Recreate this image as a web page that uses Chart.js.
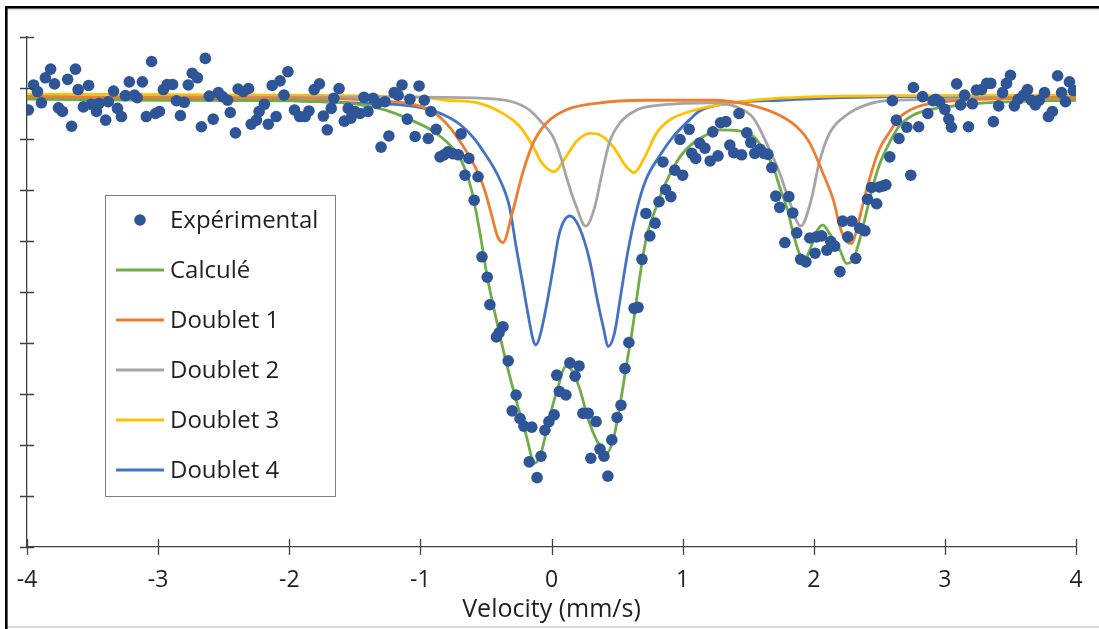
<!DOCTYPE html>
<html>
<head>
<meta charset="utf-8">
<script src="https://cdn.jsdelivr.net/npm/chart.js@4.4.1/dist/chart.umd.min.js"></script>
<style>
  html, body { margin: 0; padding: 0; background: #fff; }
  #out { display: block; }
</style>
</head>
<body>
<canvas id="out" width="1099" height="629"></canvas>
<script>
// velocity (mm/s) and relative transmission (arbitrary units, 0..10)
const expX = [-3.99,-3.95,-3.92,-3.89,-3.86,-3.82,-3.79,-3.76,-3.73,-3.69,
  -3.66,-3.63,-3.61,-3.57,-3.53,-3.51,-3.47,-3.45,-3.40,-3.38,
  -3.34,-3.31,-3.28,-3.25,-3.22,-3.18,-3.16,-3.12,-3.09,-3.05,
  -3.02,-2.99,-2.96,-2.93,-2.89,-2.86,-2.83,-2.80,-2.77,-2.74,
  -2.70,-2.67,-2.64,-2.61,-2.58,-2.54,-2.51,-2.47,-2.45,-2.41,
  -2.39,-2.35,-2.31,-2.29,-2.25,-2.23,-2.19,-2.16,-2.13,-2.10,
  -2.07,-2.04,-2.01,-1.96,-1.92,-1.88,-1.85,-1.81,-1.77,-1.74,
  -1.71,-1.68,-1.66,-1.62,-1.58,-1.55,-1.53,-1.50,-1.46,-1.43,
  -1.40,-1.36,-1.33,-1.30,-1.27,-1.24,-1.20,-1.17,-1.14,-1.10,
  -1.08,-1.04,-1.01,-0.97,-0.94,-0.92,-0.88,-0.85,-0.82,-0.79,
  -0.75,-0.71,-0.69,-0.66,-0.63,-0.59,-0.56,-0.53,-0.49,-0.47,
  -0.42,-0.40,-0.37,-0.33,-0.30,-0.27,-0.24,-0.21,-0.17,-0.15,
  -0.11,-0.08,-0.05,-0.02,0.02,0.04,0.06,0.11,0.14,0.18,
  0.21,0.24,0.28,0.30,0.34,0.37,0.40,0.43,0.46,0.50,
  0.53,0.56,0.59,0.63,0.66,0.69,0.72,0.75,0.79,0.82,
  0.85,0.87,0.91,0.94,0.98,1.00,1.05,1.07,1.10,1.13,
  1.17,1.21,1.23,1.27,1.29,1.33,1.36,1.39,1.43,1.45,
  1.49,1.52,1.55,1.59,1.62,1.65,1.68,1.71,1.74,1.78,
  1.81,1.84,1.87,1.90,1.94,1.97,2.01,2.02,2.06,2.10,
  2.13,2.16,2.20,2.22,2.26,2.29,2.32,2.35,2.39,2.41,
  2.44,2.48,2.50,2.53,2.55,2.58,2.60,2.63,2.65,2.71,
  2.74,2.76,2.80,2.83,2.87,2.91,2.93,2.96,3.00,3.03,
  3.05,3.09,3.12,3.15,3.18,3.21,3.24,3.28,3.32,3.35,
  3.37,3.41,3.44,3.47,3.50,3.53,3.56,3.60,3.63,3.66,
  3.69,3.72,3.76,3.79,3.82,3.86,3.89,3.92,3.95,3.98];
const expY = [8.57,9.06,8.93,8.71,9.20,9.37,9.08,8.61,8.54,9.17,
  8.25,9.37,8.97,8.63,9.05,8.68,8.54,8.70,8.37,8.73,
  8.94,8.60,8.44,8.85,9.12,8.86,8.81,9.12,8.44,9.52,
  8.50,8.54,8.97,9.07,9.07,8.75,8.46,8.72,9.06,9.29,
  9.20,8.24,9.58,8.84,8.39,8.91,8.83,8.76,8.52,8.12,
  8.98,8.93,8.99,8.29,8.37,8.54,8.68,8.29,9.05,8.44,
  9.14,8.86,9.32,8.57,8.44,8.44,8.55,8.97,9.08,8.45,
  8.18,8.60,8.80,8.99,8.35,8.60,8.41,8.54,8.50,8.82,
  8.54,8.80,8.70,7.84,8.73,8.06,8.91,8.86,9.06,8.39,
  8.78,8.05,9.04,8.76,8.01,8.54,8.19,7.65,7.69,7.75,
  7.71,7.69,8.10,7.29,7.62,6.80,7.26,5.69,5.29,4.75,
  4.12,4.20,4.32,3.65,2.67,2.98,2.52,2.37,1.67,2.35,
  1.36,1.78,2.29,2.46,2.59,3.37,3.05,2.98,3.61,3.35,
  3.55,2.62,2.62,1.74,2.46,1.92,1.78,1.39,2.10,2.54,
  2.78,3.50,4.01,4.68,4.70,5.64,6.54,6.10,6.35,6.77,
  7.55,7.01,6.87,7.39,7.99,7.29,8.19,7.72,7.62,7.92,
  7.82,7.57,8.14,7.67,8.32,8.34,7.88,7.73,8.50,7.69,
  8.12,7.93,7.72,7.80,7.72,7.70,7.44,6.88,6.66,5.97,
  6.87,6.55,6.16,5.64,5.59,6.06,5.76,6.08,6.10,5.82,
  5.99,5.90,5.40,6.39,6.08,6.39,5.66,6.25,6.20,6.82,
  7.05,6.73,7.06,7.08,7.10,7.65,8.75,8.37,8.01,8.23,
  7.29,9.01,8.24,8.83,8.50,8.75,8.78,8.73,8.58,8.39,
  8.23,9.08,8.67,8.86,8.24,8.69,8.96,8.97,9.09,9.09,
  8.34,8.65,8.91,9.09,9.25,8.65,8.78,8.86,8.97,8.76,
  8.67,8.76,8.91,8.44,8.54,9.24,8.91,8.73,9.12,8.95];

const calcX = [-4.00,-3.00,-2.00,-1.50,-1.27,-1.07,-0.92,-0.79,-0.69,-0.61,-0.55,-0.49,-0.42,-0.35,-0.27,-0.19,-0.13,-0.08,-0.02,0.04,
  0.11,0.15,0.21,0.29,0.37,0.42,0.47,0.52,0.57,0.62,0.67,0.72,0.80,0.87,0.98,1.08,1.18,1.28,1.43,1.54,
  1.61,1.69,1.74,1.80,1.85,1.89,1.93,1.98,2.03,2.07,2.12,2.20,2.25,2.30,2.35,2.40,2.45,2.50,2.58,2.65,
  2.76,2.88,3.01,3.26,3.52,4.00];
const calcY = [8.78,8.76,8.75,8.69,8.57,8.37,8.18,7.92,7.59,7.00,6.22,5.30,4.45,3.67,2.88,2.16,1.64,1.84,2.49,3.05,
  3.54,3.48,3.14,2.43,1.97,1.84,2.10,2.75,3.54,4.32,5.24,6.02,6.67,7.13,7.65,7.92,8.08,8.18,8.16,8.05,
  7.82,7.46,7.06,6.61,6.08,5.76,5.63,5.89,6.22,6.31,6.15,5.82,5.56,5.63,6.02,6.54,7.06,7.49,7.94,8.25,
  8.47,8.57,8.63,8.70,8.73,8.76];

const d1X = [-4.00,-2.00,-1.31,-1.01,-0.87,-0.77,-0.69,-0.61,-0.56,-0.51,-0.46,-0.41,-0.37,-0.30,-0.22,-0.14,-0.04,0.11,0.34,0.72,
  1.23,1.51,1.71,1.87,1.97,2.07,2.15,2.20,2.25,2.29,2.32,2.37,2.43,2.50,2.58,2.65,2.76,2.88,3.14,4.00];
const d1Y = [8.82,8.80,8.75,8.65,8.47,8.21,7.92,7.59,7.33,7.00,6.54,6.08,5.97,6.54,7.33,7.92,8.31,8.57,8.70,8.76,
  8.76,8.67,8.50,8.24,7.92,7.33,6.80,6.28,5.99,5.95,6.15,6.67,7.26,7.80,8.14,8.41,8.60,8.69,8.76,8.82];

const d2X = [-4.00,-1.01,-0.55,-0.30,-0.17,-0.07,0.01,0.07,0.12,0.19,0.26,0.33,0.38,0.44,0.52,0.65,0.85,1.23,1.41,1.54,
  1.64,1.74,1.82,1.90,1.98,2.04,2.12,2.25,2.40,2.60,4.00];
const d2Y = [8.82,8.82,8.80,8.73,8.57,8.31,8.05,7.65,7.20,6.67,6.29,6.67,7.26,7.92,8.31,8.57,8.67,8.71,8.63,8.41,
  7.92,7.33,6.74,6.29,6.80,7.52,8.11,8.47,8.67,8.76,8.80];

const d3X = [-4.00,-2.00,-1.01,-0.80,-0.55,-0.37,-0.24,-0.14,-0.07,0.02,0.11,0.19,0.29,0.37,0.47,0.57,0.63,0.70,0.80,0.90,
  1.10,1.36,1.74,2.65,4.00];
const d3Y = [8.88,8.86,8.82,8.76,8.70,8.50,8.24,7.85,7.52,7.36,7.65,7.95,8.11,8.08,7.85,7.46,7.34,7.59,8.11,8.37,
  8.57,8.70,8.80,8.85,8.86];

const d4X = [-4.00,-2.04,-1.53,-1.15,-0.97,-0.82,-0.69,-0.59,-0.51,-0.43,-0.36,-0.32,-0.27,-0.22,-0.18,-0.14,-0.12,-0.09,-0.04,0.01,
  0.06,0.14,0.21,0.29,0.35,0.40,0.43,0.48,0.53,0.58,0.65,0.72,0.82,0.93,1.05,1.13,1.36,1.74,2.60,4.00];
const d4Y = [8.84,8.76,8.71,8.67,8.60,8.47,8.27,8.01,7.72,7.39,7.00,6.67,5.89,5.17,4.58,4.06,3.96,4.12,4.71,5.43,
  6.15,6.49,6.28,5.63,4.84,4.25,3.93,4.19,4.97,5.76,6.61,7.20,7.65,8.05,8.37,8.55,8.70,8.76,8.83,8.84];

const xTicks = [-4, -3, -2, -1, 0, 1, 2, 3, 4];

function toPoints(xs, ys) {
  return xs.map((x, i) => ({ x: x, y: ys[i] }));
}

function lineSet(label, color, xs, ys) {
  return {
    label: label,
    data: toPoints(xs, ys),
    showLine: true,
    borderColor: color,
    backgroundColor: color,
    borderWidth: 2.8,
    pointRadius: 0,
    cubicInterpolationMode: "monotone"
  };
}

const axisColor = "#404040";
const textColor = "#1f1f1f";
Chart.defaults.font.family = "'Open Sans', sans-serif";
Chart.defaults.color = textColor;

// frame around the picture
const framePlugin = {
  id: "frame",
  beforeDraw(chart) {
    const ctx = chart.ctx;
    ctx.save();
    ctx.fillStyle = "#fff";
    ctx.fillRect(0, 0, chart.width, chart.height);
    ctx.fillStyle = "#d9d9d9";
    ctx.fillRect(5, 626, chart.width - 5, 2);
    ctx.fillStyle = "#e3e3e3";
    ctx.fillRect(7, 8.5, chart.width - 7, 2);
    ctx.fillStyle = "#000";
    ctx.fillRect(5, 6, chart.width - 5, 2.6);
    ctx.fillRect(5, 6, 2.6, chart.height - 6);
    ctx.restore();
  }
};

// tick marks crossing both axes
const crossTicks = {
  id: "crossTicks",
  afterDatasetsDraw(chart) {
    const ctx = chart.ctx;
    const xs = chart.scales.x, ys = chart.scales.y;
    const area = chart.chartArea;
    ctx.save();
    ctx.strokeStyle = axisColor;
    ctx.lineWidth = 1.3;
    ctx.beginPath();
    ys.ticks.forEach((t, i) => {
      const py = Math.round(ys.getPixelForTick(i)) + 0.5;
      ctx.moveTo(area.left - 7, py);
      ctx.lineTo(area.left + 7, py);
    });
    xs.ticks.forEach((t, i) => {
      const px = Math.round(xs.getPixelForTick(i)) + 0.5;
      ctx.moveTo(px, area.bottom - 8);
      ctx.lineTo(px, area.bottom + 8);
    });
    ctx.moveTo(area.left - 7, area.bottom + 0.5);
    ctx.lineTo(area.left, area.bottom + 0.5);
    ctx.stroke();
    ctx.restore();
  }
};

// boxed legend inside the plot
const boxLegend = {
  id: "boxLegend",
  afterDraw(chart) {
    const ctx = chart.ctx;
    const sets = chart.data.datasets;
    const left = 105.5, top = 195.5, w = 230, h = 301;
    ctx.save();
    ctx.fillStyle = "#fff";
    ctx.fillRect(left, top, w, h);
    ctx.strokeStyle = "#7f7f7f";
    ctx.lineWidth = 1;
    ctx.strokeRect(left, top, w, h);
    ctx.font = "24px 'Open Sans', sans-serif";
    ctx.textBaseline = "middle";
    ctx.fillStyle = textColor;
    sets.forEach((ds, i) => {
      const cy = 220 + i * 50;
      if (ds.showLine) {
        ctx.strokeStyle = ds.borderColor;
        ctx.lineWidth = 3;
        ctx.beginPath();
        ctx.moveTo(116, cy);
        ctx.lineTo(164, cy);
        ctx.stroke();
      } else {
        ctx.fillStyle = ds.backgroundColor;
        ctx.beginPath();
        ctx.arc(140, cy, ds.pointRadius, 0, Math.PI * 2);
        ctx.fill();
      }
      ctx.fillStyle = textColor;
      ctx.fillText(ds.label, 170, cy + 1);
    });
    ctx.restore();
  }
};

const chartConfig = {
  type: "scatter",
  data: {
    datasets: [
      {
        label: "Expérimental",
        data: toPoints(expX, expY),
        showLine: false,
        backgroundColor: "#2e5597",
        borderColor: "#2e5597",
        borderWidth: 0,
        pointRadius: 5.8
      },
      lineSet("Calculé", "#70ad47", calcX, calcY),
      lineSet("Doublet 1", "#ed7d31", d1X, d1Y),
      lineSet("Doublet 2", "#a5a5a5", d2X, d2Y),
      lineSet("Doublet 3", "#ffc000", d3X, d3Y),
      lineSet("Doublet 4", "#4472c4", d4X, d4Y)
    ]
  },
  options: {
    responsive: false,
    animation: false,
    devicePixelRatio: 1,
    events: [],
    layout: { padding: { left: 27, right: 23, top: 37, bottom: 0 } },
    plugins: {
      legend: { display: false },
      tooltip: { enabled: false }
    },
    scales: {
      x: {
        type: "linear",
        min: -4,
        max: 4,
        afterBuildTicks: scale => { scale.ticks = xTicks.map(v => ({ value: v })); },
        afterFit: scale => {
          scale.height = 82;
          scale.paddingLeft = 0;
          scale.paddingRight = 0;
        },
        grid: { display: false, drawTicks: false },
        border: { display: true, color: axisColor, width: 1.3 },
        ticks: {
          padding: 20,
          color: textColor,
          font: { size: 23 },
          maxRotation: 0
        },
        title: {
          display: true,
          text: "Velocity (mm/s)",
          color: textColor,
          font: { size: 25 },
          padding: { top: 0, bottom: 4 }
        }
      },
      y: {
        min: 0,
        max: 10,
        afterFit: scale => {
          scale.width = 0;
          scale.paddingTop = 0;
          scale.paddingBottom = 0;
        },
        grid: { display: false, drawTicks: false },
        border: { display: true, color: axisColor, width: 1.3 },
        ticks: { display: false, stepSize: 1 }
      }
    }
  },
  plugins: [framePlugin, crossTicks, boxLegend]
};

const canvasCtx = document.getElementById("out").getContext("2d");
window.chart = new Chart(canvasCtx, chartConfig);
</script>
</body>
</html>
